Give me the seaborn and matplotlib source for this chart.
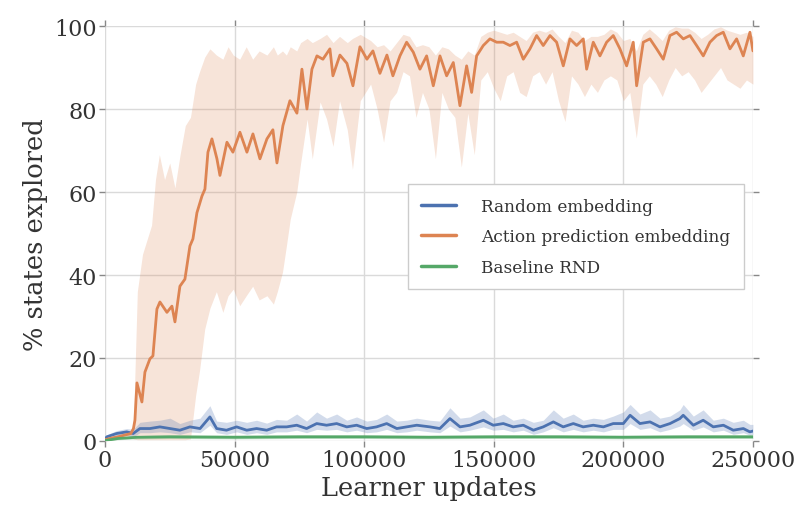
import matplotlib
matplotlib.use("Agg")
import matplotlib.pyplot as plt
import seaborn as sns

# ---------------- data ----------------
labels = ["Random embedding", "Action prediction embedding", "Baseline RND"]
x_ticks = [0, 50000, 100000, 150000, 200000, 250000]
y_ticks = [0, 20, 40, 60, 80, 100]

# Action prediction embedding: mean curve
ox = [0, 2500, 5000, 7500, 10000, 11000, 11570, 12350, 14270, 15430, 17360, 18520,
      20060, 21220, 23920, 25850, 27010, 28930, 30860, 32790, 33950, 35490, 37420,
      38580, 39740, 41280, 43210, 44370, 47070, 49380, 52080, 54780, 57100, 59800,
      62500, 64800, 66360, 68670, 71370, 74070, 76000, 77930, 79860, 81790, 84100,
      86800, 87960, 90660, 93360, 95680, 98380, 101080, 103390, 106090, 108790,
      111100, 113810, 116390, 118960, 121530, 124110, 126680, 129250, 131830,
      134400, 136960, 139540, 141470, 143400, 145960, 148530, 151120, 153680,
      156250, 158830, 161400, 163970, 166550, 169100, 171700, 174260, 176830,
      179400, 181980, 184550, 185840, 188400, 190970, 193550, 196120, 198690,
      201270, 203830, 205130, 207690, 210260, 212840, 215400, 217980, 220550,
      223120, 225700, 228270, 230840, 233410, 235990, 238550, 241130, 243700,
      246270, 248840, 250000]
oy = [0.3, 0.7, 1.0, 1.4, 1.8, 3.0, 5.0, 14.0, 9.4, 16.6, 19.8, 20.5,
      31.8, 33.5, 31.0, 32.5, 28.7, 37.3, 39.0, 47.0, 48.7, 55.0, 59.0,
      60.7, 69.6, 72.8, 68.0, 64.0, 72.0, 69.6, 74.4, 69.6, 74.0, 68.0,
      72.8, 75.0, 67.0, 76.0, 82.0, 79.0, 89.6, 80.0, 89.6, 92.8, 92.0,
      94.5, 88.0, 93.0, 91.0, 85.6, 95.0, 92.0, 94.0, 88.6, 93.0,
      88.0, 92.8, 96.1, 93.7, 89.6, 92.8, 85.6, 92.8, 88.0,
      91.2, 80.8, 90.4, 84.0, 92.8, 95.3, 96.9, 96.1, 96.1,
      95.3, 96.1, 92.0, 94.5, 97.7, 95.3, 97.7, 96.1, 90.4,
      96.9, 95.3, 96.9, 89.6, 96.1, 92.8, 96.1, 97.7, 94.5,
      90.4, 96.1, 85.6, 96.1, 96.9, 94.5, 92.0, 97.7, 98.5,
      96.9, 97.7, 95.3, 92.8, 96.1, 97.7, 98.5, 94.5, 96.9,
      92.8, 98.5, 94.0]

# Action prediction embedding: shaded band
obx = [0, 5000, 10000, 11000, 12500, 14500, 16500, 18000, 19500, 21000,
       23000, 25000, 27000, 29000, 31000, 33000, 35000, 36500, 38500, 40500,
       43000, 45500, 47500, 49500, 52000, 54500, 57000, 59500, 62500, 65000,
       66500, 68500, 70000, 71500, 74000, 75500, 78000, 80000, 83000, 85500,
       88000, 90500, 93500, 95500, 98500,
       102500, 105000, 107500, 110000, 112500, 115000, 117500, 120000, 122500, 125000,
       127500, 130000, 132500, 135000, 137500, 140000, 142500, 145000, 147500, 150000,
       152500, 155000, 157500, 160000, 162500, 165000, 167500, 170000, 172500, 175000,
       177500, 180000, 182500, 185000, 187500, 190000, 192500, 195000, 197500, 200000,
       202500, 205000, 207500, 210000, 212500, 215000, 217500, 220000, 222500, 225000,
       227500, 230000, 232500, 235000, 237500, 240000, 242500, 245000, 247500, 250000]
obu = [0.6, 1.6, 2.6, 4, 36, 45, 49, 52, 63, 69,
       63, 67, 61, 69, 76, 78, 86, 89, 92.5, 94.5,
       93, 92, 95, 93, 92, 95, 92, 94, 93, 95,
       93, 94, 93, 95, 94, 96, 97, 96, 97, 98,
       96, 97.5, 96, 97, 98,
       96.5, 95, 95.5, 94, 96, 98, 97.5, 95, 95.5, 95,
       93, 95, 94.5, 93, 92, 94, 93, 97.5, 98.5, 99,
       98.5, 98, 98.5, 97.5, 96.5, 98.5, 99, 98.5, 99.3, 97.5,
       96, 99, 98.5, 96.5, 97.5, 97.5, 98, 99.3, 98.5, 96.5,
       97, 94, 98, 99.3, 98, 96.5, 99, 99.8, 99.5, 99.5,
       98.5, 97, 98, 99.3, 99.8, 99, 98.5, 98, 98.5, 97.5]
obl = [0, 0.5, 1.0, 0.5, 0.3, 0.3, 0.3, 0.3, 0.3, 0.3,
       0.3, 0.3, 0.3, 0.3, 0.3, 0.5, 11, 17, 27, 32,
       36, 31, 35, 36.6, 32.6, 35, 37.3, 34, 35, 33,
       36, 40.7, 47, 53.5, 60, 67, 77.6, 68, 81.7, 77.6,
       71, 82, 75, 65.5, 82,
       86, 80, 72, 82, 84, 89, 88, 78, 84, 80,
       68, 84, 80, 78, 66, 79, 69, 87, 89, 85,
       82, 88, 89, 84, 83, 88, 89, 86, 89, 82,
       77, 88, 86, 83, 86, 84, 87, 88, 87, 82,
       84, 73, 86, 88, 86, 83, 87, 90, 88, 89,
       87, 84, 86, 88, 90, 87, 86, 85, 87, 86]

# Random embedding
bx = [0, 700, 4500, 8400, 10900, 13500, 17400, 21200, 25100, 28900,
      32800, 36700, 40500, 43100, 46900, 50800, 54700, 58500, 62400, 66200,
      70100, 74000, 77800, 81700, 85500, 89400, 93300, 97100, 101000, 104800,
      108700, 112600, 116400, 120300, 125400, 129200, 133100, 137000, 140800, 146000,
      149800, 153700, 157500, 161400, 165300, 169100, 173000, 176800, 180700, 184500,
      188400, 192300, 196100, 200000, 202600, 206400, 210300, 214100, 218000, 221800,
      223100, 227000, 230800, 234700, 238600, 242400, 246300, 248800, 250000]
by = [0.3, 1.0, 1.8, 2.2, 1.8, 3.0, 3.0, 3.4, 3.0, 2.6,
      3.4, 3.0, 5.8, 3.0, 2.6, 3.4, 2.6, 3.0, 2.6, 3.4,
      3.4, 3.8, 3.0, 4.2, 3.8, 4.2, 3.4, 3.8, 3.0, 3.4,
      4.2, 3.0, 3.4, 3.8, 3.4, 3.0, 5.4, 3.4, 3.8, 5.0,
      3.8, 4.2, 3.4, 3.8, 2.6, 3.4, 4.6, 3.4, 4.2, 3.4,
      3.8, 3.4, 4.2, 4.2, 6.2, 4.2, 4.6, 3.4, 4.2, 5.4,
      6.2, 3.8, 5.0, 3.4, 3.8, 2.6, 3.0, 2.2, 2.4]
bhi = [0.6, 1.5, 2.5, 3.0, 2.8, 4.5, 4.8, 5.0, 5.5, 4.2,
       5.0, 5.5, 8.5, 4.8, 4.5, 5.0, 4.5, 5.0, 4.3, 5.2,
       5.0, 6.5, 4.8, 7.0, 5.5, 6.5, 5.0, 5.8, 4.8, 5.2,
       6.5, 4.8, 5.0, 5.5, 5.0, 4.8, 8.0, 5.5, 5.8, 7.5,
       5.5, 6.5, 5.0, 5.5, 4.5, 5.0, 7.5, 5.5, 6.5, 5.0,
       5.5, 5.2, 6.0, 7.0, 8.8, 6.5, 7.5, 5.5, 6.0, 7.5,
       8.8, 6.0, 7.5, 5.0, 5.5, 4.5, 5.0, 4.0, 4.0]
blo = [0.0, 0.5, 1.0, 1.4, 1.0, 2.0, 2.0, 2.2, 2.0, 1.6,
       2.2, 2.0, 3.8, 2.0, 1.6, 2.2, 1.6, 2.0, 1.6, 2.2,
       2.2, 2.6, 2.0, 2.8, 2.6, 2.8, 2.2, 2.6, 2.0, 2.2,
       2.8, 2.0, 2.2, 2.6, 2.2, 2.0, 3.6, 2.2, 2.6, 3.4,
       2.6, 2.8, 2.2, 2.6, 1.6, 2.2, 3.2, 2.2, 2.8, 2.2,
       2.6, 2.2, 2.8, 2.8, 4.2, 2.8, 3.2, 2.2, 2.8, 3.6,
       4.2, 2.6, 3.4, 2.2, 2.6, 1.6, 2.0, 1.4, 1.6]

# Baseline RND
gx = [0, 5000, 12500, 25000, 50000, 75000, 100000, 125000, 150000, 175000, 200000, 225000, 250000]
gy = [0.1, 0.6, 0.9, 1.0, 0.9, 1.0, 1.0, 0.9, 1.0, 1.0, 0.9, 1.0, 1.0]
glo = [0.0, 0.3, 0.5, 0.6, 0.5, 0.6, 0.6, 0.5, 0.6, 0.6, 0.5, 0.6, 0.6]
ghi = [0.2, 0.9, 1.3, 1.5, 1.4, 1.5, 1.5, 1.4, 1.5, 1.5, 1.4, 1.5, 1.5]

# ---------------- drawing ----------------
sns.set_theme(style="whitegrid", palette="deep")
plt.rcParams['font.family'] = ['DejaVu Serif']
pal = sns.color_palette("deep")
c_blue, c_orange, c_green = pal[0], pal[1], pal[2]

fig = plt.figure(figsize=(8.01, 5.06), dpi=100)
ax = fig.add_axes([0.131, 0.1265, 0.809, 0.8201])

ax.fill_between(obx, obl, obu, color=c_orange, alpha=0.22, lw=0)
ax.fill_between(bx, blo, bhi, color=c_blue, alpha=0.25, lw=0)
ax.fill_between(gx, glo, ghi, color=c_green, alpha=0.3, lw=0)

sns.lineplot(x=bx, y=by, ax=ax, color=c_blue, lw=2, label=labels[0])
sns.lineplot(x=ox, y=oy, ax=ax, color=c_orange, lw=2, label=labels[1])
sns.lineplot(x=gx, y=gy, ax=ax, color=c_green, lw=2, label=labels[2])

ax.set_xlim(0, 250000)
ax.set_ylim(0, 100)
ax.set_xticks(x_ticks)
ax.set_yticks(y_ticks)
for s in ax.spines.values():
    s.set_visible(False)
ax.grid(True, color='#dadada', lw=1)
ax.tick_params(which='major', direction='out', length=4, width=1, color='#888888',
               labelsize=16, labelcolor='#333333', top=True, right=True,
               left=True, bottom=True, labeltop=False, labelright=False, pad=2)
ax.set_xlabel("Learner updates", fontsize=18.5, color='#333333', labelpad=3)
ax.set_ylabel("% states explored", fontsize=18.5, color='#333333', labelpad=4)

leg = ax.legend(loc='upper left', bbox_to_anchor=(0.509, 0.634), bbox_transform=fig.transFigure,
                borderaxespad=0, fontsize=12.2, frameon=True, fancybox=False,
                edgecolor='#cccccc', framealpha=1, handlelength=2.06, handletextpad=1.45,
                labelspacing=0.8, borderpad=0.8)
for t in leg.get_texts():
    t.set_color('#333333')
for l in leg.get_lines():
    l.set_linewidth(2.5)

fig.savefig("out.png", dpi=100)
